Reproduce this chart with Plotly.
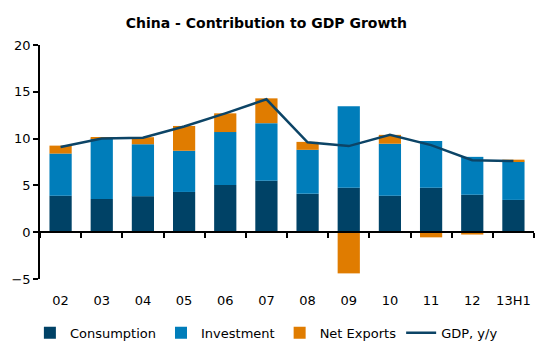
import plotly.graph_objects as go

years = ["02", "03", "04", "05", "06", "07", "08", "09", "10", "11", "12", "13H1"]
consumption = [3.9, 3.55, 3.85, 4.3, 5.05, 5.5, 4.1, 4.75, 3.9, 4.75, 4.0, 3.45]
investment = [4.5, 6.45, 5.55, 4.4, 5.65, 6.15, 4.7, 8.7, 5.55, 5.0, 4.05, 4.1]
net_exports = [0.85, 0.15, 0.75, 2.65, 2.0, 2.65, 0.85, -4.4, 0.95, -0.55, -0.25, 0.2]
gdp = [9.1, 10.0, 10.1, 11.3, 12.7, 14.2, 9.6, 9.2, 10.4, 9.3, 7.7, 7.6]

C_CONS = "#004266"
C_INV = "#007dba"
C_NX = "#e07c00"
C_GDP = "#0c4466"
FONT = "DejaVu Sans"

fig = go.Figure()
fig.add_trace(go.Bar(x=years, y=consumption, name="Consumption", marker_color=C_CONS, marker_line_width=0))
fig.add_trace(go.Bar(x=years, y=investment, name="Investment", marker_color=C_INV, marker_line_width=0))
fig.add_trace(go.Bar(x=years, y=net_exports, name="Net Exports", marker_color=C_NX, marker_line_width=0))
fig.add_trace(go.Scatter(x=years, y=gdp, name="GDP, y/y", mode="lines",
                         line=dict(color=C_GDP, width=2.5)))
# invisible trace to carry the zero-line axis with boundary ticks
fig.add_trace(go.Scatter(x=years, y=[0] * len(years), xaxis="x2", mode="markers",
                         marker=dict(opacity=0), showlegend=False, hoverinfo="skip"))

fig.update_layout(
    width=547, height=354,
    margin=dict(l=40, r=13, t=45, b=75, autoexpand=False),
    paper_bgcolor="white", plot_bgcolor="white",
    barmode="relative", bargap=0.46,
    font=dict(family=FONT, size=13, color="#000000"),
    title=dict(text="<b>China - Contribution to GDP Growth</b>", x=0.487, xanchor="center",
               y=0.935, yanchor="middle", font=dict(family=FONT, size=14, color="#000000")),
    xaxis=dict(type="category", categoryorder="array", categoryarray=years,
               range=[-0.5, 11.5], showline=False, ticks="", showgrid=False,
               zeroline=False, ticklabelstandoff=12, tickfont=dict(size=13), automargin=False),
    xaxis2=dict(type="category", categoryorder="array", categoryarray=years,
                overlaying="x", matches="x", anchor="free", position=0.2,
                showline=True, linecolor="#000000", linewidth=1.5,
                ticks="outside", tickson="boundaries", ticklen=5, tickcolor="#000000",
                tickwidth=1.5, showticklabels=False, showgrid=False, zeroline=False),
    yaxis=dict(range=[-5, 20], tickvals=[-5, 0, 5, 10, 15, 20], showline=True,
               linecolor="#000000", linewidth=1.5, ticks="outside", ticklen=5,
               tickcolor="#000000", tickwidth=1.5, showgrid=False, zeroline=False,
               tickfont=dict(size=13), automargin=False),
    legend=dict(orientation="h", xref="container", x=0.487, xanchor="center",
                yref="container", y=0.06, yanchor="middle",
                font=dict(size=13), traceorder="normal", itemwidth=30,
                bgcolor="rgba(0,0,0,0)"),
)

fig.write_html("out.html")
